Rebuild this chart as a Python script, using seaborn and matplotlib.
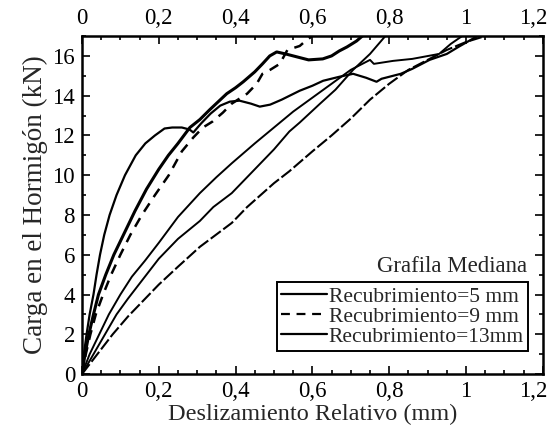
import numpy as np
import pandas as pd
import matplotlib
matplotlib.use("Agg")
import matplotlib.pyplot as plt
import matplotlib.transforms as mtrans
import seaborn as sns
from matplotlib.ticker import MultipleLocator, FuncFormatter
from matplotlib.lines import Line2D

# ---- data ----
c5a_x = [0, 0.005, 0.012, 0.02, 0.03, 0.038, 0.047, 0.058, 0.072, 0.09, 0.112, 0.14, 0.165, 0.19, 0.215,
         0.235, 0.26, 0.28, 0.29, 0.31, 0.335, 0.36, 0.385, 0.41, 0.44, 0.463, 0.49, 0.52, 0.567, 0.6,
         0.628, 0.67, 0.706, 0.74, 0.767, 0.78, 0.83, 0.86, 0.905, 0.95, 0.98, 1.03]
c5a_y = [0, 1, 2, 3, 4, 5, 6, 7, 8, 9, 10, 11, 11.6, 12.0, 12.35,
         12.4, 12.4, 12.3, 12.15, 12.6, 13.1, 13.5, 13.7, 13.75, 13.6, 13.45, 13.55, 13.8, 14.25, 14.5,
         14.75, 14.95, 15.1, 14.9, 14.7, 14.85, 15.1, 15.35, 15.8, 16.1, 16.45, 17]

c5b_x = [0, 0.008, 0.018, 0.03, 0.043, 0.062, 0.083, 0.108, 0.138, 0.168, 0.2, 0.225, 0.25, 0.281, 0.307,
         0.333, 0.355, 0.377, 0.4, 0.42, 0.45, 0.47, 0.489, 0.507, 0.53, 0.56, 0.59, 0.627, 0.65, 0.67,
         0.69, 0.715, 0.73]
c5b_y = [0, 1, 2, 3, 4, 5, 6, 7, 8.2, 9.3, 10.3, 11.0, 11.6, 12.4, 12.8,
         13.3, 13.7, 14.1, 14.4, 14.7, 15.2, 15.6, 16.0, 16.2, 16.1, 15.95, 15.8, 15.85, 16.0, 16.25,
         16.45, 16.75, 17]

c9a_x = [0, 0.01, 0.022, 0.036, 0.055, 0.076, 0.1, 0.126, 0.156, 0.19, 0.226, 0.26, 0.29, 0.315, 0.34,
         0.367, 0.39, 0.43, 0.455, 0.47, 0.49, 0.515, 0.535, 0.567, 0.585, 0.6]
c9a_y = [0, 1, 2, 3, 4, 5, 6, 7, 8, 9, 10, 11.2, 11.9, 12.4, 12.7,
         13.15, 13.6, 14.1, 14.6, 15.1, 15.3, 15.6, 16.3, 16.5, 16.8, 17]

c9b_x = [0, 0.04, 0.08, 0.12, 0.16, 0.2, 0.25, 0.307, 0.39, 0.43, 0.5, 0.54, 0.6, 0.65, 0.7,
         0.75, 0.8, 0.85, 0.9, 0.95, 1.0, 1.05]
c9b_y = [0, 1, 2, 2.9, 3.7, 4.5, 5.4, 6.4, 7.6, 8.4, 9.6, 10.2, 11.2, 12.0, 12.85,
         13.8, 14.6, 15.3, 15.8, 16.3, 16.7, 17]

c13a_x = [0, 0.02, 0.045, 0.07, 0.1, 0.13, 0.164, 0.2, 0.25, 0.307, 0.35, 0.39, 0.45, 0.5, 0.55,
          0.6, 0.65, 0.7, 0.75, 0.76, 0.81, 0.86, 0.93, 0.96, 0.99]
c13a_y = [0, 1, 2, 3, 4, 4.9, 5.7, 6.6, 7.9, 9.1, 9.9, 10.6, 11.6, 12.4, 13.2,
          13.9, 14.6, 15.3, 15.8, 15.6, 15.75, 15.85, 16.1, 16.6, 17]

c13b_x = [0, 0.03, 0.06, 0.09, 0.12, 0.16, 0.2, 0.25, 0.307, 0.342, 0.39, 0.45, 0.5, 0.54, 0.567,
          0.62, 0.66, 0.706, 0.75, 0.79]
c13b_y = [0, 1, 2, 3, 3.8, 4.8, 5.8, 6.8, 7.7, 8.4, 9.1, 10.3, 11.3, 12.2, 12.65,
          13.6, 14.3, 15.3, 16.1, 17]

series_labels = ["Recubrimiento=5 mm", "Recubrimiento=9 mm", "Recubrimiento=13mm"]
x_ticks = [0, 0.2, 0.4, 0.6, 0.8, 1.0, 1.2]
y_ticks = [0, 2, 4, 6, 8, 10, 12, 14, 16]

sns.set_style("ticks")
plt.rcParams["font.family"] = ["Liberation Serif", "DejaVu Serif"]
plt.rcParams["font.size"] = 16

fig = plt.figure(figsize=(5.5, 4.34), dpi=100)
ax = fig.add_axes([0.149, 0.138, 0.838, 0.779])

curves = [
    (c5a_x, c5a_y, "-", 1.6),
    (c5b_x, c5b_y, "-", 2.2),
    (c9a_x, c9a_y, (0, (4, 3)), 1.8),
    (c9b_x, c9b_y, (0, (6, 1.5)), 1.5),
    (c13a_x, c13a_y, "-", 1.4),
    (c13b_x, c13b_y, "-", 1.4),
]
for cx, cy, ls, lw in curves:
    df = pd.DataFrame({"x": cx, "y": cy})
    sns.lineplot(data=df, x="x", y="y", ax=ax, color="black", sort=False,
                 estimator=None, linestyle=ls, linewidth=lw, legend=False)

ax.set_xlim(0, 1.2)
ax.set_ylim(0, 17)
ax.set_xticks(x_ticks)
ax.set_yticks(y_ticks)
ax.xaxis.set_minor_locator(MultipleLocator(0.05))
ax.yaxis.set_minor_locator(MultipleLocator(1))

def fmt(v, pos):
    s = ("%.1f" % v).rstrip("0").rstrip(".")
    return s.replace(".", ",")

ax.xaxis.set_major_formatter(FuncFormatter(fmt))
ax.tick_params(which="both", direction="in", top=True, right=True, labeltop=True,
               labelsize=16.5, colors="black", width=1.2)
ax.tick_params(which="major", length=6, pad=5)
ax.tick_params(which="minor", length=3)
for sp in ax.spines.values():
    sp.set_linewidth(1.8)
    sp.set_color("black")

ax.set_xlabel("Deslizamiento Relativo (mm)", fontsize=17.5, labelpad=1)
ax.set_ylabel("Carga en el Hormigón (kN)", fontsize=19.5, labelpad=3)

# keep the last x tick labels (1,2) inside the figure, as in the reference
fig.canvas.draw()
shift = mtrans.ScaledTranslation(-10 / 100, 0, fig.dpi_scale_trans)
for t in ax.xaxis.get_major_ticks():
    if abs(t.get_loc() - 1.2) < 1e-6:
        t.label1.set_transform(t.label1.get_transform() + shift)
        t.label2.set_transform(t.label2.get_transform() + shift)

ax.text(0.965, 0.317, "Grafila Mediana", transform=ax.transAxes, ha="right", va="center", fontsize=16.5)

handles = [
    Line2D([], [], color="black", linestyle="-", linewidth=1.6),
    Line2D([], [], color="black", linestyle=(0, (4, 3)), linewidth=1.6),
    Line2D([], [], color="black", linestyle="-", linewidth=1.6),
]
leg = ax.legend(handles, series_labels, loc="upper right", bbox_to_anchor=(0.968, 0.272),
                frameon=True, fancybox=False, edgecolor="black", fontsize=15.5,
                handlelength=2.1, handletextpad=0.1, labelspacing=0.0, borderpad=0.2,
                borderaxespad=0.0)
leg.get_frame().set_linewidth(1.4)
leg.get_frame().set_alpha(1)

fig.savefig("out.png", dpi=100)
